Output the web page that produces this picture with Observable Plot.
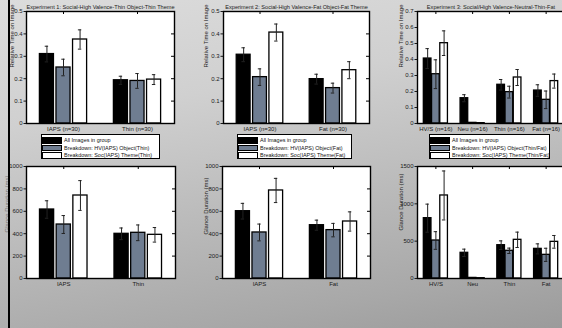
<!DOCTYPE html>
<html><head><meta charset="utf-8">
<script src="https://cdn.jsdelivr.net/npm/d3@7"></script>
<script src="https://cdn.jsdelivr.net/npm/@observablehq/plot@0.6"></script>
<style>
html,body{margin:0;padding:0;overflow:hidden;}
#root{position:relative;width:562px;height:328px;overflow:hidden;
  background:linear-gradient(170deg,#dcdcdc 0%,#d0d0d0 30%,#a8a8a8 85%,#9b9b9b 100%);
  font-family:"Liberation Sans",Arial,sans-serif;}
.panel{position:absolute;}
.leftline{position:absolute;left:8px;top:0;width:2px;height:328px;background:#000;}
.legend{position:absolute;background:#fff;border:1px solid #000;box-sizing:border-box;}
.legend .row{position:absolute;left:0px;height:7px;display:flex;align-items:center;}
.sw{width:20px;height:6.5px;box-sizing:border-box;border:1px solid #000;}
.lt{font-size:5.45px;margin-left:2px;color:#111;white-space:nowrap;}
</style></head><body><div id="root"></div>
<script>
// ---------- data ----------
const seriesFills = ["#000000", "#6f7d91", "#ffffff"];
const legendThin = ["All Images in group", "Breakdown: HV(IAPS) Object(Thin)", "Breakdown: Soc(IAPS) Theme(Thin)"];
const legendFat = ["All Images in group", "Breakdown: HV(IAPS) Object(Fat)", "Breakdown: Soc(IAPS) Theme(Fat)"];
const legendThinFat = ["All Images in group", "Breakdown: HV(IAPS) Object(Thin/Fat)", "Breakdown: Soc(IAPS) Theme(Thin/Fat)"];

const titles = [
  "Experiment 1: Social-High Valence-Thin Object-Thin Theme",
  "Experiment 2: Social-High Valence-Fat Object-Fat Theme",
  "Experiment 3: Social/High Valence-Neutral-Thin-Fat"
];
const ylabelTime = "Relative Time on Image";
const ylabelGlance = "Glance Duration (ms)";

const exp1CatsTop = ["IAPS (n=30)", "Thin (n=30)"];
const exp2CatsTop = ["IAPS (n=30)", "Fat (n=30)"];
const exp3CatsTop = ["HV/S (n=16)", "Neu (n=16)", "Thin (n=16)", "Fat (n=16)"];
const exp1CatsBot = ["IAPS", "Thin"];
const exp2CatsBot = ["IAPS", "Fat"];
const exp3CatsBot = ["HV/S", "Neu", "Thin", "Fat"];

const ticksTime5 = [0, 0.1, 0.2, 0.3, 0.4, 0.5];
const ticksTime7 = [0, 0.1, 0.2, 0.3, 0.4, 0.5, 0.6, 0.7];
const ticksGlance1000 = [0, 200, 400, 600, 800, 1000];
const ticksGlance1500 = [0, 500, 1000, 1500];

// Experiment 1 – relative time
const e1TimeAll = [0.31, 0.193],  e1TimeAllErr = [0.035, 0.018];
const e1TimeHV  = [0.25, 0.19],   e1TimeHVErr  = [0.037, 0.033];
const e1TimeSoc = [0.375, 0.196], e1TimeSocErr = [0.043, 0.022];
// Experiment 2 – relative time
const e2TimeAll = [0.307, 0.198], e2TimeAllErr = [0.031, 0.022];
const e2TimeHV  = [0.207, 0.158], e2TimeHVErr  = [0.037, 0.022];
const e2TimeSoc = [0.406, 0.238], e2TimeSocErr = [0.038, 0.038];
// Experiment 3 – relative time
const e3TimeAll = [0.406, 0.158, 0.242, 0.206], e3TimeAllErr = [0.062, 0.022, 0.033, 0.036];
const e3TimeHV  = [0.308, 0.004, 0.196, 0.148], e3TimeHVErr  = [0.09, 0, 0.037, 0.055];
const e3TimeSoc = [0.502, 0.002, 0.2875, 0.265], e3TimeSocErr = [0.077, 0, 0.05, 0.044];
// Experiment 1 – glance duration
const e1GlAll = [616, 399], e1GlAllErr = [78, 52];
const e1GlHV  = [482, 408], e1GlHVErr  = [80, 70];
const e1GlSoc = [741, 390], e1GlSocErr = [133, 65];
// Experiment 2 – glance duration
const e2GlAll = [601, 476], e2GlAllErr = [70, 45];
const e2GlHV  = [411, 432], e2GlHVErr  = [75, 60];
const e2GlSoc = [786, 509], e2GlSocErr = [108, 86];
// Experiment 3 – glance duration
const e3GlAll = [808, 344, 446, 397], e3GlAllErr = [188, 49, 58, 67];
const e3GlHV  = [509, 8, 371, 317],   e3GlHVErr  = [118, 0, 36, 88];
const e3GlSoc = [1112, 4, 518, 491],  e3GlSocErr = [328, 0, 103, 85];

// ---------- drawing ----------
const root = document.getElementById("root");
const offsets = [-0.224, 0, 0.224];
const fmtTime = d => d === 0 ? "0" : d.toFixed(1);
const fmtInt = d => String(d);

function drawPanel(cfg) {
  const nC = cfg.cats.length;
  const xDom = [0.5, nC + 0.5];
  const pw = cfg.width - cfg.mL - cfg.mR;
  const ph = cfg.height - cfg.mT - cfg.mB;
  const ux = (xDom[1] - xDom[0]) / pw;
  const uy = cfg.yMax / ph;
  const catIdx = cfg.cats.map((c, i) => i + 1);
  const bars = [];
  cfg.means.forEach((arr, s) => arr.forEach((v, c) => {
    const xc = c + 1 + offsets[s];
    bars.push({s, v, e: cfg.errs[s][c], xc, x1: xc - cfg.halfW, x2: xc + cfg.halfW});
  }));
  const eb = bars.filter(d => d.e > 0);
  const cap = 1.7 * ux;
  const marks = [
    Plot.frame({fill: "#fff", stroke: null}),
    ...[0, 1, 2].map(s => Plot.rect(bars.filter(d => d.s === s), {
      x1: "x1", x2: "x2", y1: 0, y2: "v", fill: seriesFills[s], stroke: "#000", strokeWidth: 1.3
    })),
    Plot.ruleX(eb, {x: "xc", y1: d => d.v - d.e, y2: d => d.v + d.e, stroke: "#222", strokeWidth: 1}),
    Plot.ruleY(eb, {y: d => d.v + d.e, x1: d => d.xc - cap, x2: d => d.xc + cap, stroke: "#222", strokeWidth: 1}),
    Plot.ruleY(eb, {y: d => d.v - d.e, x1: d => d.xc - cap, x2: d => d.xc + cap, stroke: "#222", strokeWidth: 1}),
    Plot.axisY({ticks: cfg.yTicks, tickFormat: cfg.fmt, tickSize: 2.5, tickPadding: 1.5, label: null}),
    Plot.ruleX(catIdx, {x: d => d, y1: cfg.yMax, y2: cfg.yMax - 3 * uy, stroke: "#000"}),
    Plot.axisX({ticks: catIdx, tickFormat: i => cfg.cats[i - 1], tickSize: 0, tickPadding: 3.5, label: null}),
    Plot.text([cfg.ylabel], {frameAnchor: "left", rotate: -90, dx: cfg.ylDx, dy: cfg.ylDy || 0, fontSize: 6, fill: cfg.ylColor || "#222"}),
    Plot.frame({stroke: "#000", strokeWidth: 1.4})
  ];
  if (!cfg.noRightTicks) marks.push(Plot.ruleY(cfg.yTicks, {y: d => d, x1: xDom[1], x2: xDom[1] - 3 * ux, stroke: "#000"}));
  if (cfg.title) marks.push(Plot.text([cfg.title], {frameAnchor: "top", dy: -6, fontSize: 5.6, fill: "#222"}));
  const svg = Plot.plot({
    width: cfg.width, height: cfg.height,
    marginLeft: cfg.mL, marginRight: cfg.mR, marginTop: cfg.mT, marginBottom: cfg.mB,
    style: {background: "transparent", overflow: "visible", fontSize: "6px", color: "#1a1a1a",
            fontFamily: "'Liberation Sans', Arial, sans-serif"},
    x: {domain: xDom},
    y: {domain: [0, cfg.yMax]},
    marks
  });
  svg.classList.add("panel");
  svg.style.left = cfg.left + "px";
  svg.style.top = cfg.top + "px";
  root.appendChild(svg);
}

function drawLegend(labels, left, top, width) {
  const box = document.createElement("div");
  box.className = "legend";
  Object.assign(box.style, {left: left + "px", top: top + "px", width: width + "px", height: "25px"});
  labels.forEach((lab, i) => {
    const row = document.createElement("div");
    row.className = "row";
    row.style.top = (1.8 + i * 7.5) + "px";
    const sw = document.createElement("div");
    sw.className = "sw";
    sw.style.background = seriesFills[i];
    const t = document.createElement("span");
    t.className = "lt";
    t.textContent = lab;
    row.appendChild(sw); row.appendChild(t);
    box.appendChild(row);
  });
  root.appendChild(box);
}

// top row
drawPanel({left: 0, top: 0, width: 190, height: 134, mL: 26, mR: 16, mT: 11, mB: 11,
  cats: exp1CatsTop, yMax: 0.5, yTicks: ticksTime5, fmt: fmtTime, halfW: 0.095,
  means: [e1TimeAll, e1TimeHV, e1TimeSoc], errs: [e1TimeAllErr, e1TimeHVErr, e1TimeSocErr],
  title: titles[0], ylabel: ylabelTime, ylDx: -14});
drawPanel({left: 190, top: 0, width: 190, height: 134, mL: 33, mR: 11, mT: 11, mB: 11,
  cats: exp2CatsTop, yMax: 0.5, yTicks: ticksTime5, fmt: fmtTime, halfW: 0.095,
  means: [e2TimeAll, e2TimeHV, e2TimeSoc], errs: [e2TimeAllErr, e2TimeHVErr, e2TimeSocErr],
  title: titles[1], ylabel: ylabelTime, ylDx: -17});
drawPanel({left: 380, top: 0, width: 194, height: 134, mL: 37, mR: 10, mT: 11, mB: 11,
  cats: exp3CatsTop, yMax: 0.7, yTicks: ticksTime7, fmt: fmtTime, halfW: 0.104, noRightTicks: true,
  means: [e3TimeAll, e3TimeHV, e3TimeSoc], errs: [e3TimeAllErr, e3TimeHVErr, e3TimeSocErr],
  title: titles[2], ylabel: ylabelTime, ylDx: -16});
// bottom row
drawPanel({left: 0, top: 150, width: 190, height: 145, mL: 26, mR: 15, mT: 16, mB: 17,
  cats: exp1CatsBot, yMax: 1000, yTicks: ticksGlance1000, fmt: fmtInt, halfW: 0.095,
  means: [e1GlAll, e1GlHV, e1GlSoc], errs: [e1GlAllErr, e1GlHVErr, e1GlSocErr],
  ylabel: ylabelGlance, ylDx: -19, ylDy: 10, ylColor: "#777"});
drawPanel({left: 190, top: 150, width: 190, height: 145, mL: 32, mR: 10, mT: 16, mB: 17,
  cats: exp2CatsBot, yMax: 1000, yTicks: ticksGlance1000, fmt: fmtInt, halfW: 0.095,
  means: [e2GlAll, e2GlHV, e2GlSoc], errs: [e2GlAllErr, e2GlHVErr, e2GlSocErr],
  ylabel: ylabelGlance, ylDx: -16, ylDy: 12});
drawPanel({left: 380, top: 150, width: 194, height: 145, mL: 37, mR: 10, mT: 16, mB: 17,
  cats: exp3CatsBot, yMax: 1500, yTicks: ticksGlance1500, fmt: fmtInt, halfW: 0.104, noRightTicks: true,
  means: [e3GlAll, e3GlHV, e3GlSoc], errs: [e3GlAllErr, e3GlHVErr, e3GlSocErr],
  ylabel: ylabelGlance, ylDx: -16, ylDy: 8});

drawLegend(legendThin, 41, 134, 119);
drawLegend(legendFat, 237, 134, 115);
drawLegend(legendThinFat, 429, 134, 121);

const line = document.createElement("div");
line.className = "leftline";
root.appendChild(line);
</script>
</body></html>
